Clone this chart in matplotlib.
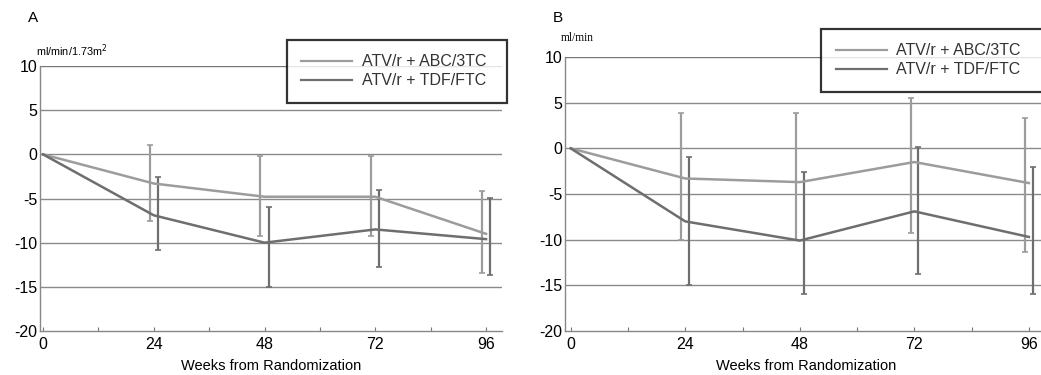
import matplotlib
matplotlib.use("Agg")
import matplotlib.pyplot as plt
from matplotlib.ticker import MultipleLocator

plt.rcParams['font.family'] = ['Liberation Sans', 'DejaVu Sans']
plt.rcParams['axes.unicode_minus'] = False

weeks = [0, 24, 48, 72, 96]
labels = ['ATV/r + ABC/3TC', 'ATV/r + TDF/FTC']

# panel A: ml/min/1.73m2
a_abc = [0, -3.3, -4.8, -4.8, -9.0]
a_abc_hi = [0, 1.1, -0.2, -0.2, -4.2]
a_abc_lo = [0, -7.5, -9.2, -9.3, -13.4]
a_tdf = [0, -6.9, -10.0, -8.5, -9.6]
a_tdf_hi = [0, -2.6, -6.0, -4.0, -4.9]
a_tdf_lo = [0, -10.8, -15.0, -12.7, -13.7]

# panel B: ml/min
b_abc = [0, -3.3, -3.7, -1.5, -3.8]
b_abc_hi = [0, 3.9, 3.9, 5.5, 3.3]
b_abc_lo = [0, -10.0, -10.0, -9.3, -11.3]
b_tdf = [0, -8.0, -10.1, -6.9, -9.7]
b_tdf_hi = [0, -1.0, -2.6, 0.1, -2.0]
b_tdf_lo = [0, -15.0, -16.0, -13.8, -16.0]

c_abc = '#9c9c9c'
c_tdf = '#6e6e6e'

fig = plt.figure(figsize=(10.41, 3.75), dpi=100)


def panel(ax, abc, abc_hi, abc_lo, tdf, tdf_hi, tdf_lo, shift):
    for y in [5, 0, -5, -10, -15]:
        ax.axhline(y, color='#8a8a8a', lw=1.0, zorder=1)
    ax.axhline(10, color='#777777', lw=1.0, zorder=1)
    for vals, hi, lo, c, dx in [(abc, abc_hi, abc_lo, c_abc, -shift),
                                (tdf, tdf_hi, tdf_lo, c_tdf, shift)]:
        ax.plot(weeks, vals, color=c, lw=1.8, zorder=3)
        xs = [w + dx for w in weeks[1:]]
        ys = [(h + l) / 2 for h, l in zip(hi[1:], lo[1:])]
        err = [[y - l for y, l in zip(ys, lo[1:])], [h - y for y, h in zip(ys, hi[1:])]]
        ax.errorbar(xs, ys, yerr=err, fmt='none', ecolor=c, elinewidth=1.6,
                    capsize=2, capthick=1.2, zorder=2)
    ax.set_ylim(-20, 10)
    ax.set_yticks([-20, -15, -10, -5, 0, 5, 10])
    ax.set_xticks(weeks)
    ax.xaxis.set_minor_locator(MultipleLocator(12))
    ax.tick_params(axis='x', direction='in', length=3, width=0.8, color='#777777',
                   labelsize=11.5, pad=4, which='both')
    ax.tick_params(axis='y', length=0, labelsize=11.5, pad=2)
    for s in ['top', 'right']:
        ax.spines[s].set_visible(False)
    for s in ['left', 'bottom']:
        ax.spines[s].set_color('#888888')
        ax.spines[s].set_linewidth(1.0)
    ax.set_xlabel('Weeks from Randomization', fontsize=10.5, labelpad=5)


axA = fig.add_axes([0.0384, 0.1173, 0.4438, 0.7067])
panel(axA, a_abc, a_abc_hi, a_abc_lo, a_tdf, a_tdf_hi, a_tdf_lo, 0.9)
axA.set_xlim(-0.65, 99.45)

axB = fig.add_axes([0.5427, 0.1173, 0.464, 0.7307])
panel(axB, b_abc, b_abc_hi, b_abc_lo, b_tdf, b_tdf_hi, b_tdf_lo, 0.8)
axB.set_xlim(-1.2, 100)

fig.text(0.027, 0.952, 'A', fontsize=11, va='center')
fig.text(0.531, 0.952, 'B', fontsize=11, va='center')
fig.text(0.035, 0.866, 'ml/min/1.73m$^2$', fontsize=7.8, va='center')
fig.text(0.539, 0.898, 'ml/min', fontsize=8.3, va='center', family='Liberation Serif')

for anchor in [(0.2757, 0.731, 0.2115, 0.162), (0.789, 0.752, 0.23, 0.171)]:
    h = [plt.Line2D([], [], color=c_abc, lw=1.6), plt.Line2D([], [], color=c_tdf, lw=1.6)]
    leg = fig.legend(h, labels, loc='upper left', bbox_to_anchor=anchor,
                     bbox_transform=fig.transFigure, mode='expand', fontsize=11.5,
                     frameon=True, fancybox=False, handlelength=3.2,
                     labelspacing=0.25, borderpad=0.9, handletextpad=0.6,
                     borderaxespad=0)
    leg.get_frame().set_edgecolor('black')
    leg.get_frame().set_linewidth(1.6)
    for t in leg.get_texts():
        t.set_color('#333333')

fig.savefig('out.png', dpi=100)
